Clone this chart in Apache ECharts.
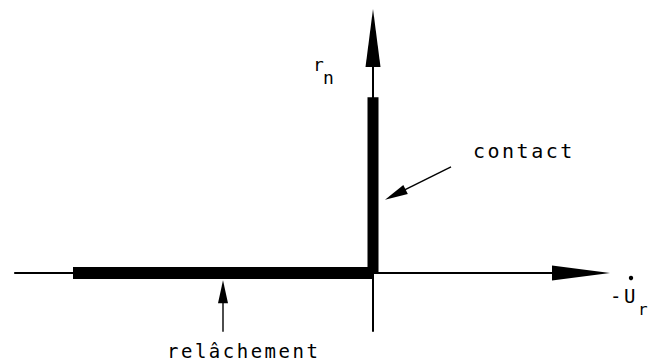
<!DOCTYPE html>
<html>
<head>
<meta charset="utf-8">
<script src="https://cdn.jsdelivr.net/npm/echarts@6/dist/echarts.min.js"></script>
<style>
  html, body { margin: 0; padding: 0; background: #ffffff; }
  #chart { width: 650px; height: 362px; }
  /* wide, drafting-style lettering */
  #chart text { letter-spacing: 2.5px; }
</style>
</head>
<body>
<div id="chart"></div>
<script>
// Axes of the (-U̇r, rn) plane: [x0, y0, x1, y1], arrowhead at (x1, y1)
const axisArrows = [
  [-5.98, 0, 3.95, 0],
  [0, -0.98, 0, 4.4]
];
// Contact branch: -U̇r = 0, rn >= 0
const contactBranch = [[0, 0], [0, 2.93]];
// Release branch: rn = 0, -U̇r <= 0
const releaseBranch = [[-5.0, 0], [0, 0]];
// Pointers from each caption to its branch: [x0, y0, x1, y1]
const pointerArrows = [
  [1.3, 1.77, 0.2, 1.22],
  [-2.5, -0.98, -2.5, -0.12]
];
const captions = ['contact', 'relâchement'];
const axisNames = { y: ['r', 'n'], x: ['-U', 'r'] };

const FONT = '"DejaVu Sans Mono", "Liberation Mono", monospace';

function arrowRenderer(headLen, headHalf, lineWidth) {
  return function (params, api) {
    const a = api.coord([api.value(0), api.value(1)]);
    const b = api.coord([api.value(2), api.value(3)]);
    const dx = b[0] - a[0], dy = b[1] - a[1];
    const L = Math.hypot(dx, dy);
    const ux = dx / L, uy = dy / L;
    const bx = b[0] - ux * headLen, by = b[1] - uy * headLen;
    const nx = -uy * headHalf, ny = ux * headHalf;
    return {
      type: 'group',
      children: [
        { type: 'line', shape: { x1: a[0], y1: a[1], x2: bx + ux, y2: by + uy },
          style: { stroke: '#000', lineWidth: lineWidth } },
        { type: 'polygon', shape: { points: [[b[0], b[1]], [bx + nx, by + ny], [bx - nx, by - ny]] },
          style: { fill: '#000' } }
      ]
    };
  };
}

function txt(text, x, y, size) {
  return {
    type: 'text', x: x, y: y, silent: true,
    style: { text: text, font: size + 'px ' + FONT, fill: '#000',
             textAlign: 'left', textVerticalAlign: 'middle' }
  };
}

const chart = echarts.init(document.getElementById('chart'), null, { renderer: 'svg' });
chart.setOption({
  animation: false,
  backgroundColor: '#ffffff',
  grid: { left: 13, right: 37, top: 3, bottom: 29 },
  xAxis: { type: 'value', min: -6, max: 4, show: false },
  yAxis: { type: 'value', min: -1, max: 4.5, show: false },
  series: [
    {
      type: 'custom', renderItem: arrowRenderer(58, 7.5, 2),
      data: axisArrows, z: 2
    },
    {
      type: 'line', data: releaseBranch, symbol: 'none',
      lineStyle: { color: '#000', width: 12, cap: 'butt' }, z: 3
    },
    {
      type: 'line', data: contactBranch, symbol: 'none',
      lineStyle: { color: '#000', width: 11, cap: 'butt' }, z: 3
    },
    {
      type: 'custom', renderItem: arrowRenderer(23, 5, 1.4),
      data: pointerArrows, z: 2
    }
  ],
  graphic: [
    txt(captions[0], 473, 151, 20),
    txt(captions[1], 167, 351, 19),
    txt(axisNames.y[0], 313, 64, 18),
    txt(axisNames.y[1], 323, 77, 18),
    txt(axisNames.x[0], 610, 296, 19),
    { type: 'circle', shape: { cx: 631, cy: 278, r: 2.2 }, style: { fill: '#000' }, silent: true },
    txt(axisNames.x[1], 638, 309, 16)
  ]
});
</script>
</body>
</html>
